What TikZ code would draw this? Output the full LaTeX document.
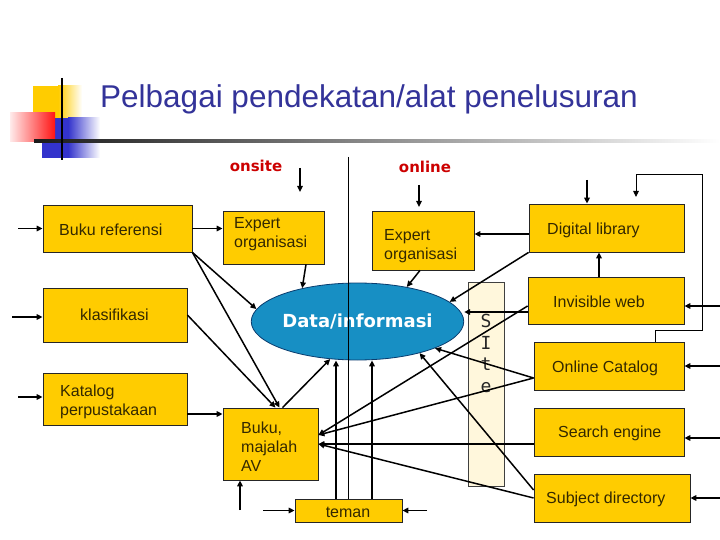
\documentclass[tikz,border=0pt]{standalone}
\usepackage{fontspec}
\setmainfont{Liberation Sans}
\newfontfamily\dvs{DejaVu Sans}
\newfontfamily\dvmono{DejaVu Sans Mono}
\usetikzlibrary{arrows.meta,shapes.geometric,calc}
\definecolor{boxgold}{RGB}{255,204,0}
\definecolor{boxtext}{RGB}{51,40,0}
\definecolor{ellblue}{RGB}{23,143,196}
\definecolor{ellborder}{RGB}{10,60,110}
\definecolor{sitefill}{RGB}{255,247,220}
\definecolor{titleblue}{RGB}{51,51,153}
\definecolor{labelred}{RGB}{204,0,0}
\definecolor{logoblue}{RGB}{51,51,204}
\definecolor{logored}{RGB}{255,20,20}
\tikzset{
  box/.style={draw=black!85, line width=0.8pt, fill=boxgold, inner sep=0pt},
  boxlabel/.style={inner sep=0pt, text=boxtext, align=left, font=\fontsize{16}{19}\selectfont},
  arr/.style={line width=1.5pt, -{Triangle[length=6pt,width=5.5pt]}},
  fbline/.style={line width=0.9pt, -{Triangle[length=6pt,width=5.5pt]}},
  thinline/.style={line width=0.8pt},
  sidelabel/.style={text=labelred, inner sep=0pt, font=\dvs\bfseries\fontsize{15}{18}\selectfont}
}
\begin{document}
\begin{tikzpicture}[x=1pt,y=-1pt]
\useasboundingbox (0,0) rectangle (720,540);
% logo
\fill[boxgold] (33,86) rectangle (58,118);
\shade[left color=boxgold, right color=white] (58,86) rectangle (82,118);
\fill[logoblue] (42,118) rectangle (68,158);
\shade[left color=logoblue, right color=white] (68,118) rectangle (100,158);
\shade[left color=red!8, right color=logored] (10,113) rectangle (55,142);
\shade[left color=black!90, right color=white] (34,140) rectangle (720,142.5);
\draw[line width=2.5pt] (62,78) -- (62,160);
% title
\node[anchor=base west, inner sep=0pt, text=titleblue, font=\fontsize{31.5}{36}\selectfont] (title) at (100,108) {Pelbagai pendekatan/alat penelusuran};
\node[sidelabel] (onsite) at (256,166) {onsite};
\node[sidelabel] (online) at (425,167) {online};
% site column
\node[draw=black!75, fill=sitefill, line width=0.6pt, minimum width=36pt, minimum height=204pt, inner sep=0pt] (site) at (486,384) {};
\node[anchor=north, inner sep=0pt, align=center, text=black!85, font=\dvmono\fontsize{18}{21.5}\selectfont] (sitelbl) at (486,314) {S\\I\\t\\e};
% boxes
\node[box, minimum width=149pt, minimum height=47pt] (bref) at (117.5,228.5) {};
\node[box, minimum width=101pt, minimum height=53pt] (expon) at (273.5,237.5) {};
\node[box, minimum width=144pt, minimum height=54pt] (klas) at (115,315) {};
\node[box, minimum width=144pt, minimum height=52pt] (kat) at (115,399) {};
\node[box, minimum width=95pt, minimum height=72pt] (bma) at (270.5,444) {};
\node[box, minimum width=107pt, minimum height=23pt] (teman) at (348.5,510.5) {};
\node[box, minimum width=102pt, minimum height=59pt] (exon) at (423,240.5) {};
\node[box, minimum width=155pt, minimum height=48pt] (dl) at (606.5,228) {};
\node[box, minimum width=156pt, minimum height=47pt] (iw) at (606,300.5) {};
\node[box, minimum width=150pt, minimum height=48pt] (oc) at (609,366) {};
\node[box, minimum width=150pt, minimum height=48pt] (se) at (609,432) {};
\node[box, minimum width=156pt, minimum height=48pt] (sd) at (612,498) {};
% box labels
\node[boxlabel, anchor=west] (brefT) at (59,230) {Buku referensi};
\node[boxlabel, anchor=west] (exponT) at (234,234) {Expert\\organisasi};
\node[boxlabel, anchor=west] (klasT) at (80,315) {klasifikasi};
\node[boxlabel, anchor=west] (katT) at (60,402) {Katalog\\perpustakaan};
\node[boxlabel, anchor=west] (bmaT) at (241,447) {Buku,\\majalah\\AV};
\node[boxlabel] (temanT) at (348,512) {teman};
\node[boxlabel, anchor=west] (exonT) at (384,246) {Expert\\organisasi};
\node[boxlabel, anchor=west] (dlT) at (547,230) {Digital library};
\node[boxlabel, anchor=west] (iwT) at (553,302) {Invisible web};
\node[boxlabel, anchor=west] (ocT) at (552,368) {Online Catalog};
\node[boxlabel, anchor=west] (seT) at (558,433) {Search engine};
\node[boxlabel, anchor=west] (sdT) at (546,499) {Subject directory};
% ellipse
\node[ellipse, draw=ellborder, line width=0.8pt, fill=ellblue, minimum width=187pt, minimum height=77pt, inner sep=0pt, text=white, font=\dvs\bfseries\fontsize{18}{20}\selectfont] (ell) at (357.5,321.5) {Data/informasi};
% divider
\coordinate (divTop) at (348,157);
\draw[thinline] (divTop) -- (divTop |- teman.north);
% left inputs
\coordinate (lin1) at (18,228.5);
\draw[arr] (lin1) -- (lin1 -| bref.west);
\coordinate (lin2) at (12,317);
\draw[arr] (lin2) -- (lin2 -| klas.west);
\coordinate (lin3) at (18,397);
\draw[arr] (lin3) -- (lin3 -| kat.west);
% onsite connectors
\draw[arr] (bref.east) -- (bref.east -| expon.west);
\coordinate (on1) at (300,168);
\coordinate (on1e) at (300,192);
\draw[arr] (on1) -- (on1e);
\draw[arr] ([xshift=32.5pt]expon.south) -- (ell.149);
\draw[arr] (bref.south east) -- (ell.173);
\draw[arr] (bref.south east) -- ([xshift=9pt]bma.north);
\draw[arr] (klas.east) -- ([xshift=5pt]bma.north);
\draw[arr] ([yshift=-15pt]kat.east) -- ([yshift=-15pt]kat.east -| bma.west);
\draw[arr] ([xshift=12pt]bma.north) -- (ell.234);
\coordinate (bmaIn) at (240,510);
\draw[arr] (bmaIn) -- (bmaIn |- bma.south);
\coordinate (temL) at (263,510.5);
\draw[arr] (temL) -- (temL -| teman.west);
\coordinate (temR) at (427,510.5);
\draw[arr] (temR) -- (temR -| teman.east);
\draw[arr] ([xshift=-12.5pt]teman.north) -- ([xshift=-12.5pt]teman.north |- ell.south);
\draw[arr] ([xshift=23.5pt]teman.north) -- ([xshift=23.5pt]teman.north |- ell.south);
% online connectors
\coordinate (ol1) at (419,185);
\coordinate (ol1e) at (419,207);
\draw[arr] (ol1) -- (ol1e);
\draw[arr] ([yshift=-6pt]dl.west) -- ([yshift=-6pt]dl.west -| exon.east);
\draw[arr] ([xshift=-3pt]exon.south) -- (ell.35);
\draw[arr] (dl.south west) -- (ell.12);
\coordinate (dlIn) at (587,180);
\draw[arr] (dlIn) -- (dlIn |- dl.north);
\draw[arr] ([xshift=-7pt]iw.north) -- ([xshift=-7pt]iw.north |- dl.south);
\draw[arr] ([yshift=-11.5pt]iw.west) -- ([yshift=-11.5pt]iw.west -| ell.east);
\draw[arr] ([yshift=-5.5pt]iw.west) -- ([yshift=9pt]bma.east);
\draw[arr] ([yshift=-12pt]oc.west) -- (ell.341);
\draw[arr] ([yshift=-12pt]oc.west) -- ([yshift=9pt]bma.east);
\draw[arr] (se.west |- bma.east) -- (bma.east);
\draw[arr] (sd.west) -- (bma.east);
\draw[arr] ([yshift=8pt]sd.west) -- (ell.333);
% right inputs
\coordinate (r1) at (720,306);
\draw[arr] (r1) -- (r1 -| iw.east);
\coordinate (r2) at (720,366);
\draw[arr] (r2) -- (r2 -| oc.east);
\coordinate (r3) at (720,438);
\draw[arr] (r3) -- (r3 -| se.east);
\coordinate (r4) at (720,498);
\draw[arr] (r4) -- (r4 -| sd.east);
% feedback loop
\coordinate (fb1) at (702,174);
\coordinate (fbEnd) at (636,197);
\draw[fbline] ([xshift=46pt]oc.north) -- ++(0,-11) -| (fb1) -| (fbEnd);
\end{tikzpicture}
\end{document}
